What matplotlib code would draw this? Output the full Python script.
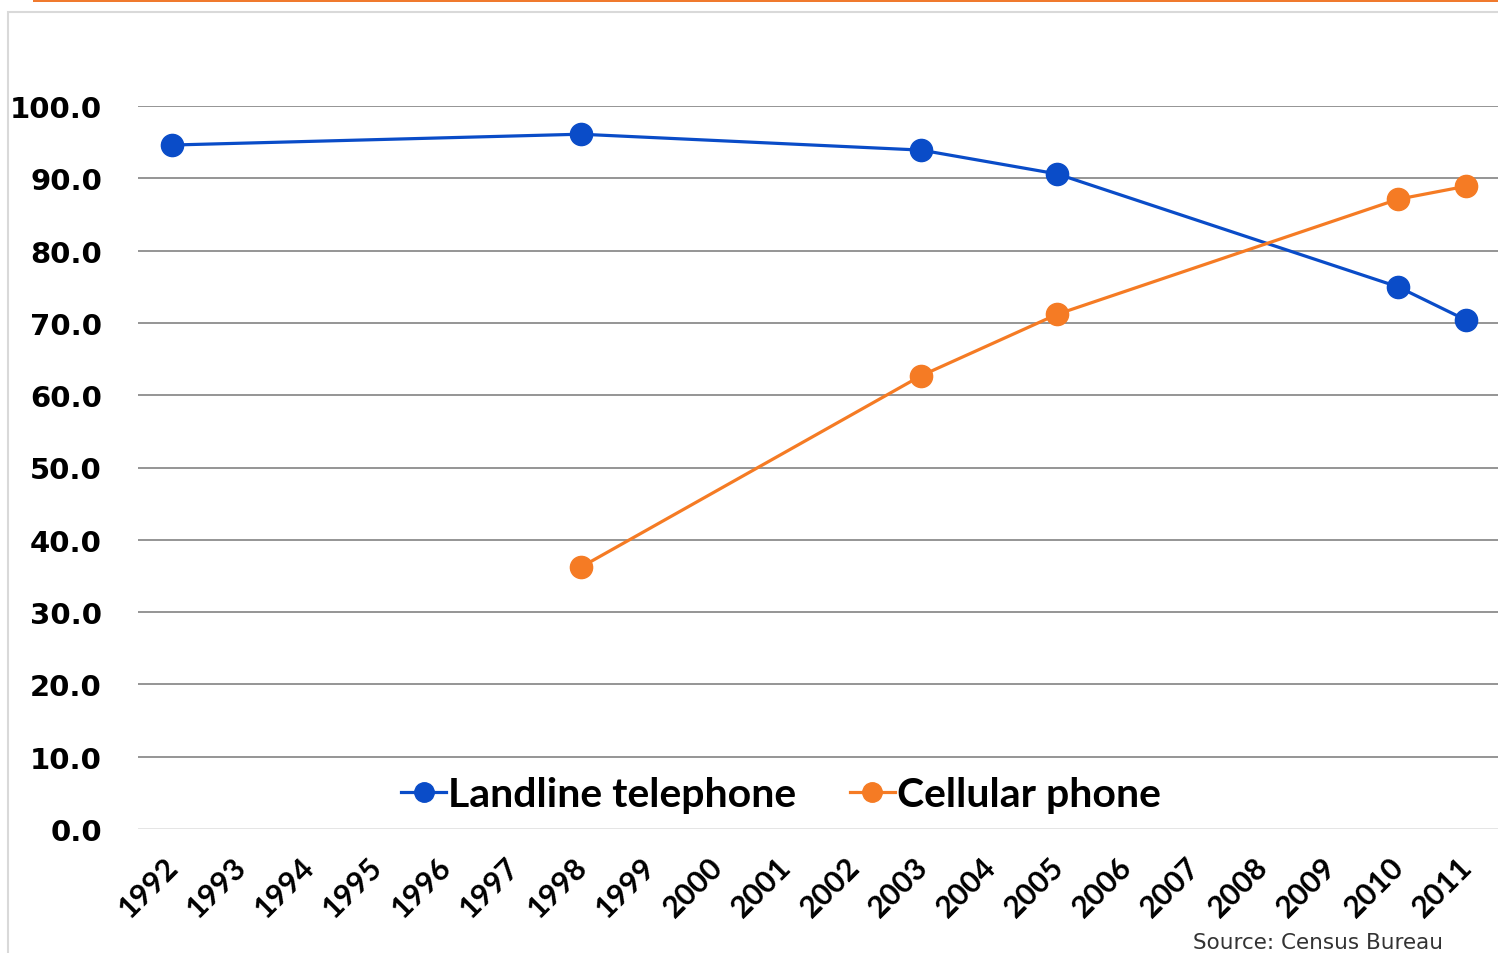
import numpy as np
import matplotlib
matplotlib.use("Agg")
import matplotlib.pyplot as plt
import matplotlib.transforms as mtransforms
from matplotlib.patches import Rectangle
from matplotlib.lines import Line2D

years = [str(y) for y in range(1992, 2012)]
landline_years = [1992, 1998, 2003, 2005, 2010, 2011]
landline_pct = [94.6, 96.1, 93.9, 90.6, 75.0, 70.4]
cell_years = [1998, 2003, 2005, 2010, 2011]
cell_pct = [36.2, 62.7, 71.2, 87.1, 88.9]
y_ticks = [0, 10, 20, 30, 40, 50, 60, 70, 80, 90, 100]

blue = "#0A4CC8"
orange = "#F57B24"

fig = plt.figure(figsize=(14.98, 9.54), dpi=100)
fig.patch.set_facecolor("white")

# outer panel border and accent bar (drawn beneath the axes)
fig.patches.append(Rectangle((8 / 1498, -0.05), 1.2, 1 - 13 / 954 + 0.05,
                             transform=fig.transFigure, facecolor="white",
                             edgecolor="#D9D9D9", linewidth=1.5, zorder=-2))
fig.patches.append(Rectangle((33 / 1498, 1 - 3 / 954), 1.0, 3 / 954 + 0.01,
                             transform=fig.transFigure, facecolor="#F07A2E",
                             edgecolor="none", zorder=-1))

ax = fig.add_axes([138 / 1498, 1 - 830 / 954, (1500 - 138) / 1498, (830 - 107) / 954])
ax.set_facecolor("none")

x_idx = {int(y): i for i, y in enumerate(years)}
lx = [x_idx[y] for y in landline_years]
cx = [x_idx[y] for y in cell_years]

ax.plot(lx, landline_pct, color=blue, lw=2.3, marker="o", ms=16,
        clip_on=False, zorder=3)
ax.plot(cx, cell_pct, color=orange, lw=2.3, marker="o", ms=16,
        clip_on=False, zorder=3)

ax.set_xlim(-0.5, len(years) - 0.5)
ax.set_ylim(0, 100)

for v in y_ticks:
    ax.axhline(v, color="#E3E3E3" if v == 0 else "#8C8C8C", lw=1.3, zorder=1)

for s in ax.spines.values():
    s.set_visible(False)

ax.set_yticks(y_ticks)
ax.set_yticklabels([f"{v:.1f}" for v in y_ticks], fontsize=21,
                   fontweight="bold", family="DejaVu Sans")
ax.tick_params(axis="y", length=0, pad=26)
ax.set_xticks(range(len(years)))
ax.set_xticklabels(years, rotation=45, ha="right", rotation_mode="anchor",
                   fontsize=22, fontweight="bold", family="Lato")
ax.tick_params(axis="x", length=0, pad=12)
shift = mtransforms.ScaledTranslation(-8 / 100, -6 / 100, fig.dpi_scale_trans)
for lbl in ax.get_xticklabels():
    lbl.set_transform(lbl.get_transform() + shift)

handles = [
    Line2D([], [], color=blue, lw=2.3, marker="o", ms=14),
    Line2D([], [], color=orange, lw=2.3, marker="o", ms=14),
]
leg = ax.legend(handles, ["Landline telephone", "Cellular phone"],
                loc="center", ncol=2, frameon=False,
                prop={"family": "Lato", "weight": "bold", "size": 29.5},
                handlelength=1.1, handletextpad=0.05, columnspacing=1.3)
leg.set_bbox_to_anchor((781 / 1498, 1 - 796 / 954), transform=fig.transFigure)

fig.text(1193 / 1498, 1 - 953 / 954, "Source: Census Bureau", fontsize=15.5,
         family="DejaVu Sans", color="#333333", va="bottom", ha="left")

fig.savefig("out.png", dpi=100, facecolor="white")
